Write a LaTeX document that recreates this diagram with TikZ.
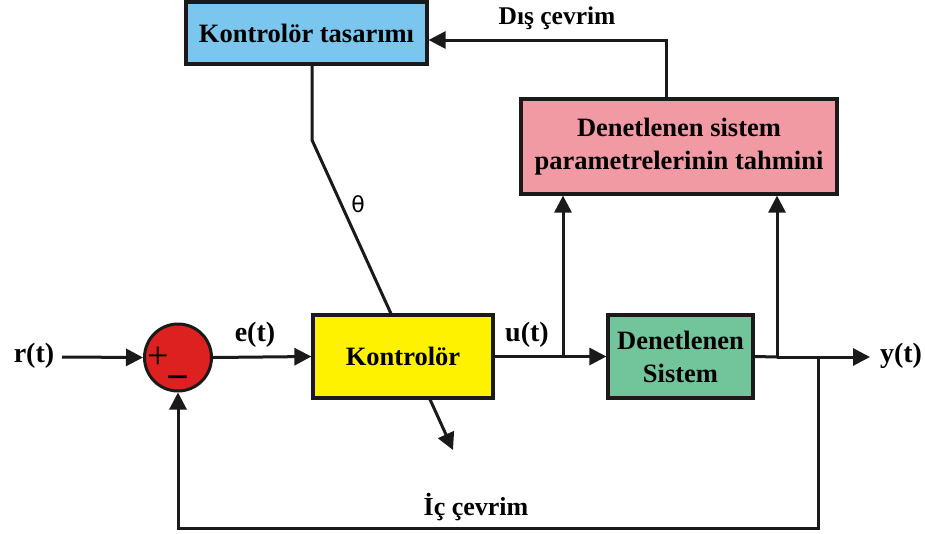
\documentclass[tikz,border=0pt]{standalone}
\usepackage{fontspec}
\setmainfont{Liberation Serif}
\newfontfamily\symfont{DejaVu Sans}
\usetikzlibrary{arrows.meta}
\definecolor{ktblue}{HTML}{7AC6EE}
\definecolor{kyellow}{HTML}{FFF200}
\definecolor{dsgreen}{HTML}{72C49A}
\definecolor{ppink}{HTML}{F29AA3}
\definecolor{sred}{HTML}{DD2020}
\definecolor{edge}{HTML}{1A1A1A}
\begin{document}
\begin{tikzpicture}[x=1pt,y=-1pt, line width=3pt, draw=edge,
  blk/.style={draw=edge, line width=3.2pt, inner sep=0pt, align=center,
              font=\fontsize{26.5}{33}\selectfont\bfseries},
  lbl/.style={font=\fontsize{28}{30}\selectfont\bfseries, inner sep=0pt},
  arr/.style={-{Triangle[length=17pt,width=17pt]}},
]
\useasboundingbox (0,0) rectangle (925,533);
\fill[white] (0,0) rectangle (925,533);

% Kontrolor tasarimi
\node[blk, fill=ktblue, minimum width=241pt, minimum height=62pt] (kt) at (306.5,33) {Kontrolör tasarımı};

% theta line (drawn beneath the Kontrolor box)
\coordinate (t0) at (312,64);
\coordinate (t1) at (312,140);
\coordinate (t2) at (453,450);
\draw[arr] (t0) -- (t1) -- (t2);
\node[font=\symfont\fontsize{22}{22}\selectfont, inner sep=0pt] (theta) at (358,204) {θ};

% blocks
\node[blk, fill=kyellow, minimum width=180pt, minimum height=83pt] (k) at (403,356.5) {Kontrolör};
\node[blk, fill=dsgreen, minimum width=145pt, minimum height=83pt] (ds) at (680.5,356.5) {Denetlenen\\Sistem};
\node[blk, fill=ppink, minimum width=316pt, minimum height=95pt] (p) at (679,146.5) {Denetlenen sistem\\parametrelerinin tahmini};

% summing junction
\node[circle, draw=edge, line width=3pt, fill=sred, minimum size=67pt, inner sep=0pt] (sum) at (178,357.5) {};
\node[font=\fontsize{38}{38}\selectfont, inner sep=0pt] (plus) at (158,358) {+};
\node[font=\fontsize{40}{40}\selectfont\bfseries, inner sep=0pt] (minus) at (178,383) {\char"2212};

% signal labels
\node[lbl] (r) at (34,356) {r(t)};
\node[lbl] (e) at (255,335) {e(t)};
\node[lbl] (u) at (527,335) {u(t)};
\node[lbl] (y) at (901,356) {y(t)};
\node[font=\fontsize{25.5}{26}\selectfont\bfseries, inner sep=0pt] (dis) at (557,18) {Dış çevrim};
\node[font=\fontsize{26}{26}\selectfont\bfseries, inner sep=0pt] (ic) at (476,507) {İç çevrim};

% branch points
\coordinate (b1) at (563,357);
\coordinate (b2) at (777,357);
\coordinate (b3) at (818,357);
\coordinate (c) at (818,528);
\coordinate (yend) at (870,357);
\coordinate (d1) at (666,40);
\coordinate (rs) at (62,357);

% connectors
\draw[arr] (rs) -- (sum.west);
\draw[arr] (sum.east) -- (k.west);
\draw[arr] (k.east) -- (ds.west);
\draw[arr] (b1) -- (b1 |- p.south);
\draw (ds.east) -- (b2);
\draw[arr] (b2) -- (yend);
\draw[arr] (b2) -- (b2 |- p.south);
\draw[arr] (b3) -- (c) -| (sum.south);
\draw[arr] (d1 |- p.north) -- (d1) -- (d1 -| kt.east);
\end{tikzpicture}
\end{document}
